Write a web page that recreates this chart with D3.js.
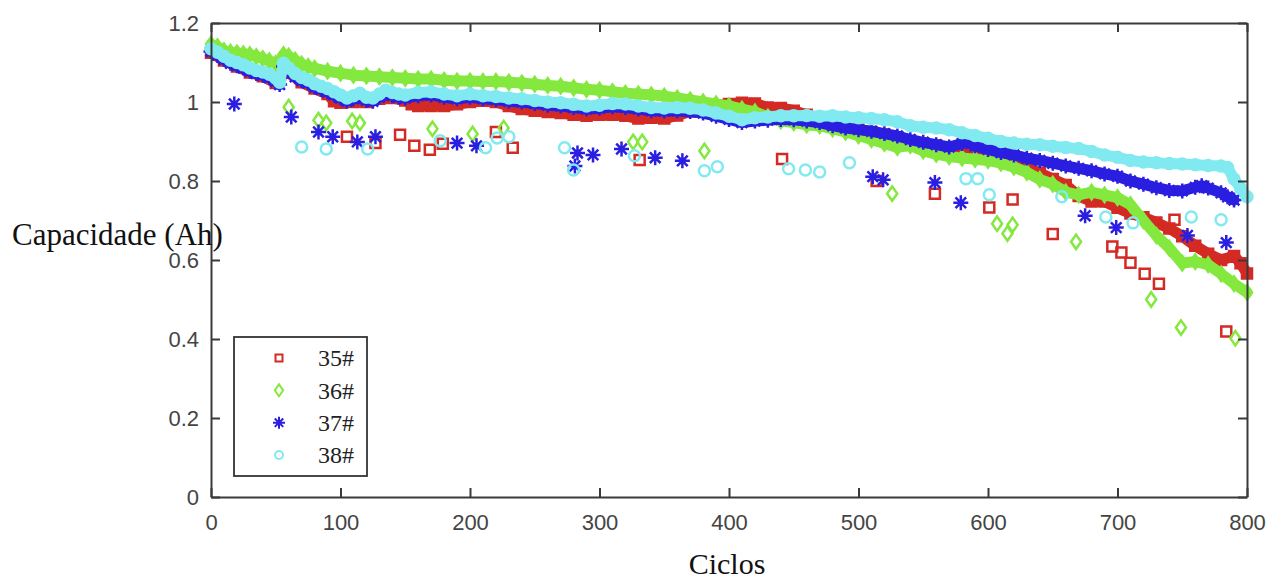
<!DOCTYPE html>
<html><head><meta charset="utf-8">
<script src="https://cdn.jsdelivr.net/npm/d3@7"></script>
<style>body{margin:0;background:#fff}</style></head><body>
<svg id="c" width="1269" height="581"></svg>
<script>
// ---- data ----
const xTicks = [0,100,200,300,400,500,600,700,800];
const yTicks = [0,0.2,0.4,0.6,0.8,1,1.2];
const yTickLabels = ["0","0.2","0.4","0.6","0.8","1","1.2"];
const seriesNames = ["35#","36#","37#","38#"];
const seriesColors = ["#d42a24","#84e83e","#2a1ee0","#80eaf0"];
const seriesShapes = ["square","diamond","asterisk","circle"];

const band35 = [[0,1.125],[10,1.105],[20,1.090],[30,1.075],[40,1.065],[50,1.048],[56,1.085],[60,1.074],[70,1.050],[80,1.034],[90,1.020],[95,1.002],[100,0.998],[110,1.000],[120,1.000],[130,1.008],[140,1.010],[150,1.004],[155,0.994],[160,0.990],[170,0.990],[180,0.990],[190,0.994],[200,1.000],[210,1.003],[220,1.000],[230,0.990],[240,0.982],[250,0.978],[260,0.975],[270,0.972],[280,0.968],[290,0.965],[300,0.968],[310,0.968],[320,0.965],[330,0.958],[340,0.960],[350,0.958],[360,0.966],[370,0.976],[380,0.986],[390,0.990],[400,0.995],[410,0.998],[420,0.996],[430,0.986],[440,0.985],[450,0.978],[460,0.968],[470,0.958],[480,0.940],[490,0.930],[500,0.930],[510,0.924],[520,0.918],[530,0.910],[540,0.900],[550,0.895],[560,0.890],[570,0.884],[580,0.878],[590,0.880],[600,0.866],[610,0.858],[620,0.850],[630,0.836],[640,0.820],[650,0.805],[660,0.790],[670,0.762],[680,0.748],[690,0.748],[700,0.732],[710,0.718],[720,0.708],[730,0.695],[740,0.680],[750,0.660],[760,0.636],[770,0.616],[780,0.600],[790,0.610],[795,0.592],[800,0.566]];
const band36 = [[0,1.146],[5,1.140],[10,1.130],[15,1.126],[20,1.124],[25,1.122],[30,1.120],[35,1.115],[40,1.110],[45,1.104],[50,1.098],[53,1.095],[56,1.120],[60,1.116],[65,1.106],[70,1.096],[75,1.090],[80,1.085],[90,1.078],[100,1.073],[110,1.068],[120,1.066],[130,1.064],[140,1.062],[150,1.060],[160,1.058],[170,1.058],[180,1.055],[190,1.053],[200,1.053],[210,1.052],[220,1.052],[230,1.050],[240,1.048],[250,1.045],[260,1.042],[270,1.040],[280,1.036],[290,1.032],[300,1.030],[310,1.026],[320,1.022],[330,1.020],[340,1.018],[350,1.015],[360,1.010],[370,1.005],[380,1.000],[390,0.995],[400,0.990],[410,0.982],[420,0.975],[430,0.962],[440,0.952],[450,0.948],[460,0.942],[470,0.940],[480,0.932],[490,0.924],[500,0.915],[510,0.905],[520,0.895],[530,0.885],[540,0.890],[550,0.876],[560,0.868],[570,0.862],[580,0.858],[590,0.855],[600,0.852],[610,0.845],[620,0.835],[630,0.822],[640,0.804],[650,0.792],[660,0.772],[670,0.765],[680,0.772],[690,0.765],[700,0.758],[710,0.740],[720,0.700],[730,0.662],[740,0.630],[750,0.592],[760,0.596],[770,0.588],[780,0.565],[790,0.540],[800,0.518]];
const band37 = [[0,1.128],[5,1.118],[10,1.108],[15,1.098],[20,1.092],[25,1.086],[30,1.078],[35,1.072],[40,1.068],[45,1.062],[50,1.052],[53,1.044],[56,1.090],[60,1.078],[65,1.064],[70,1.054],[75,1.048],[80,1.038],[85,1.032],[90,1.026],[95,1.018],[100,1.010],[105,1.002],[110,1.008],[115,1.014],[120,1.004],[125,1.002],[130,1.012],[135,1.022],[140,1.016],[145,1.012],[150,1.010],[160,1.016],[170,1.018],[180,1.012],[190,1.008],[200,1.012],[210,1.008],[220,1.006],[230,1.002],[240,1.000],[250,0.996],[260,0.992],[270,0.990],[280,0.986],[290,0.982],[300,0.984],[310,0.988],[320,0.986],[330,0.982],[340,0.978],[350,0.977],[360,0.978],[370,0.976],[380,0.972],[390,0.964],[400,0.956],[410,0.948],[420,0.952],[430,0.954],[440,0.956],[450,0.955],[460,0.952],[470,0.948],[480,0.940],[490,0.934],[500,0.930],[510,0.926],[520,0.920],[530,0.914],[540,0.905],[550,0.898],[560,0.892],[570,0.886],[580,0.895],[585,0.900],[590,0.889],[600,0.880],[610,0.872],[620,0.866],[630,0.858],[640,0.852],[650,0.845],[660,0.838],[670,0.832],[680,0.826],[690,0.818],[700,0.812],[710,0.800],[720,0.792],[730,0.783],[740,0.776],[750,0.775],[760,0.784],[765,0.788],[770,0.782],[780,0.770],[785,0.760],[790,0.752]];
const band38 = [[0,1.135],[5,1.126],[10,1.116],[15,1.106],[20,1.100],[25,1.094],[30,1.086],[35,1.080],[40,1.076],[45,1.070],[50,1.060],[53,1.050],[56,1.098],[60,1.086],[65,1.072],[70,1.062],[75,1.056],[80,1.046],[85,1.040],[90,1.034],[95,1.026],[100,1.018],[105,1.010],[110,1.016],[115,1.022],[120,1.012],[125,1.010],[130,1.020],[135,1.030],[140,1.024],[145,1.020],[150,1.018],[160,1.024],[170,1.026],[180,1.020],[190,1.016],[200,1.020],[210,1.016],[220,1.014],[230,1.010],[240,1.008],[250,1.004],[260,1.000],[270,0.998],[280,0.994],[290,0.990],[300,0.992],[310,0.996],[320,0.995],[330,0.990],[340,0.986],[350,0.985],[360,0.986],[370,0.984],[380,0.980],[390,0.972],[400,0.964],[410,0.955],[420,0.960],[430,0.962],[440,0.965],[450,0.965],[460,0.966],[470,0.964],[480,0.965],[490,0.962],[500,0.960],[510,0.958],[520,0.955],[530,0.950],[540,0.940],[550,0.936],[560,0.934],[570,0.930],[580,0.922],[590,0.915],[600,0.908],[610,0.900],[620,0.896],[630,0.893],[640,0.892],[650,0.888],[660,0.885],[670,0.882],[680,0.875],[690,0.866],[700,0.860],[710,0.852],[720,0.848],[730,0.846],[740,0.844],[750,0.843],[760,0.841],[770,0.839],[780,0.838],[785,0.834],[790,0.805],[795,0.782],[800,0.760]];

const out35 = [[105,0.912],[127,0.896],[146,0.917],[157,0.889],[169,0.879],[179,0.894],[220,0.924],[233,0.884],[331,0.853],[441,0.856],[514,0.800],[559,0.768],[601,0.733],[619,0.753],[650,0.666],[696,0.634],[703,0.619],[710,0.593],[721,0.565],[732,0.540],[744,0.702],[784,0.419]];
const out36 = [[60,0.987],[83,0.954],[89,0.947],[109,0.952],[115,0.947],[171,0.932],[202,0.919],[226,0.934],[326,0.899],[333,0.899],[381,0.876],[526,0.768],[607,0.692],[615,0.667],[619,0.689],[668,0.646],[726,0.500],[749,0.429],[791,0.402]];
const out37 = [[18,0.995],[62,0.962],[83,0.924],[94,0.912],[113,0.899],[127,0.912],[190,0.896],[205,0.889],[281,0.838],[283,0.871],[295,0.866],[317,0.881],[343,0.859],[364,0.851],[511,0.811],[519,0.803],[559,0.796],[579,0.745],[675,0.712],[699,0.682],[754,0.662],[784,0.644]];
const out38 = [[70,0.886],[89,0.881],[121,0.881],[177,0.902],[212,0.884],[221,0.909],[230,0.912],[273,0.884],[280,0.828],[327,0.864],[381,0.826],[391,0.836],[446,0.831],[459,0.828],[470,0.823],[493,0.846],[583,0.806],[592,0.806],[601,0.765],[657,0.760],[691,0.709],[712,0.694],[757,0.709],[780,0.702]];

const bands = [band35, band36, band37, band38];
const outliers = [out35, out36, out37, out38];

// ---- drawing ----
const svg = d3.select('#c');
const x = d3.scaleLinear().domain([0,800]).range([211,1247]);
const y = d3.scaleLinear().domain([0,1.2]).range([497,23]);

function markerPath(shape, s) {
  if (shape === 'square') return d3.symbol(d3.symbolSquare, s*s)();
  if (shape === 'diamond') { const w = s*0.42, h = s*0.6; return `M0,${-h}L${w},0L0,${h}L${-w},0Z`; }
  if (shape === 'circle') return d3.symbol(d3.symbolCircle, Math.PI*(s/2)*(s/2))();
  const r = s/2, p = [];
  for (let k = 0; k < 4; k++) {
    const a = k*Math.PI/4;
    p.push(`M${-r*Math.cos(a)},${-r*Math.sin(a)}L${r*Math.cos(a)},${r*Math.sin(a)}`);
  }
  return p.join('');
}
const markerSize = {square:10, diamond:12, asterisk:15, circle:11};
const legendSize = {square:7, diamond:10, asterisk:12, circle:8};

const plot = svg.append('g');
const line = d3.line().x(d => x(d[0])).y(d => y(d[1]));

seriesNames.forEach((name, i) => {
  const col = seriesColors[i], shape = seriesShapes[i];
  const g = plot.append('g');
  g.append('path').datum(bands[i]).attr('d', line)
    .attr('fill','none').attr('stroke', col).attr('stroke-width', 11)
    .attr('stroke-linejoin','round').attr('stroke-linecap','round');
  g.selectAll('.b').data(bands[i]).join('path')
    .attr('transform', d => `translate(${x(d[0])},${y(d[1])})`)
    .attr('d', markerPath(shape, markerSize[shape]))
    .attr('fill', col).attr('stroke', col).attr('stroke-width', 2.5);
  g.selectAll('.o').data(outliers[i]).join('path')
    .attr('transform', d => `translate(${x(d[0])},${y(d[1])})`)
    .attr('d', markerPath(shape, markerSize[shape]))
    .attr('fill','none').attr('stroke', col).attr('stroke-width', 2.5);
});

// axes
const axisColor = '#3a3a3a';
const tickFont = '"Liberation Sans", Arial, sans-serif';
const gb = svg.append('g').attr('transform','translate(0,497)')
  .call(d3.axisBottom(x).tickValues(xTicks).tickFormat(d3.format('d')).tickSizeInner(-9).tickSizeOuter(0).tickPadding(17));
const gl = svg.append('g').attr('transform','translate(211,0)')
  .call(d3.axisLeft(y).tickValues(yTicks).tickFormat((d,i) => yTickLabels[i]).tickSizeInner(-9).tickSizeOuter(0).tickPadding(12));
const gt = svg.append('g').attr('transform','translate(0,23)')
  .call(d3.axisTop(x).tickValues(xTicks).tickFormat('').tickSizeInner(-9).tickSizeOuter(0));
const gr = svg.append('g').attr('transform','translate(1247,0)')
  .call(d3.axisRight(y).tickValues(yTicks).tickFormat('').tickSizeInner(-9).tickSizeOuter(0));
[gb, gl, gt, gr].forEach(g => {
  g.selectAll('path.domain').attr('stroke', axisColor).attr('stroke-width', 2);
  g.selectAll('line').attr('stroke', axisColor).attr('stroke-width', 2);
  g.selectAll('text').attr('font-family', tickFont).attr('font-size', 22).attr('fill', '#444');
});

// axis titles
svg.append('text').attr('x', 12).attr('y', 245)
  .attr('font-family','"Liberation Serif", "Times New Roman", serif').attr('font-size', 31)
  .attr('fill','#111').text('Capacidade (Ah)');
svg.append('text').attr('x', 727).attr('y', 574).attr('text-anchor','middle')
  .attr('font-family','"Liberation Serif", "Times New Roman", serif').attr('font-size', 30)
  .attr('fill','#111').text('Ciclos');

// legend
const lg = svg.append('g');
lg.append('rect').attr('x',234).attr('y',337).attr('width',133).attr('height',139)
  .attr('fill','#fff').attr('stroke','#333').attr('stroke-width',1.8);
const legY = d3.scalePoint().domain(seriesNames).range([358,455]);
seriesNames.forEach((name, i) => {
  const shape = seriesShapes[i];
  lg.append('path').attr('transform', `translate(279,${legY(name)})`)
    .attr('d', markerPath(shape, legendSize[shape]))
    .attr('fill','none').attr('stroke', seriesColors[i]).attr('stroke-width', 2);
  lg.append('text').attr('x', 318).attr('y', legY(name)).attr('dy','0.35em')
    .attr('font-family','"Liberation Serif", "Times New Roman", serif').attr('font-size', 24)
    .attr('fill','#222').text(name);
});
</script>
</body></html>
